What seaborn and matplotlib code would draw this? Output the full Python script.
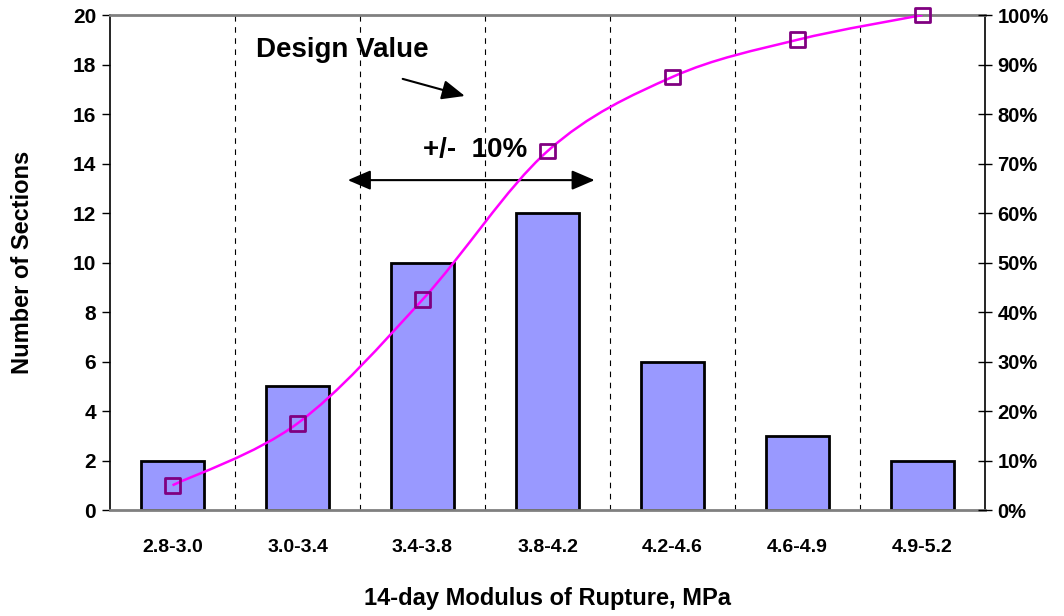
import numpy as np
import pandas as pd
import matplotlib
matplotlib.use("Agg")
import matplotlib.pyplot as plt
import seaborn as sns
from matplotlib.path import Path
from matplotlib.patches import PathPatch
from matplotlib.ticker import FuncFormatter

# data
ranges = ["2.8-3.0", "3.0-3.4", "3.4-3.8", "3.8-4.2", "4.2-4.6", "4.6-4.9", "4.9-5.2"]
counts = [2, 5, 10, 12, 6, 3, 2]
cum_pct = [5, 17.5, 42.5, 72.5, 87.5, 95, 100]

sns.set_style("white")
plt.rcParams["font.family"] = ["Liberation Sans", "DejaVu Sans"]
plt.rcParams["font.weight"] = "bold"
plt.rcParams["text.color"] = "black"
plt.rcParams["axes.labelcolor"] = "black"
plt.rcParams["xtick.color"] = "black"
plt.rcParams["ytick.color"] = "black"

df = pd.DataFrame({"range": ranges, "count": counts})

fig = plt.figure(figsize=(10.64, 6.16), dpi=100)
ax = fig.add_axes([0.1034, 0.172, 0.8223, 0.8036])

sns.barplot(data=df, x="range", y="count", color="#9999FF", width=0.5,
            edgecolor="black", linewidth=2, saturation=1, ax=ax, zorder=2)

n = len(ranges)
ax.set_xlim(-0.5, n - 0.5)
ax.set_ylim(0, 20)
ax.set_yticks(range(0, 21, 2))

# tick marks at category boundaries, labels at centres
bounds = np.arange(-0.5, n, 1.0)
ax.set_xticks(bounds)
ax.set_xticklabels([])
ax.set_xticks(range(n), minor=True)
ax.set_xticklabels(ranges, minor=True, fontsize=14, fontweight="bold")
ax.tick_params(axis="x", which="major", direction="out", length=7, width=1)
ax.tick_params(axis="x", which="minor", length=0, pad=21)
ax.tick_params(axis="y", direction="out", length=6, width=1, labelsize=15, pad=4)
for lab in ax.get_yticklabels():
    lab.set_fontweight("bold")

for b in bounds[1:-1]:
    ax.axvline(b, color="black", lw=0.8, ls=(0, (5, 5)), zorder=1)

for side in ["left", "right"]:
    ax.spines[side].set_color("black")
    ax.spines[side].set_linewidth(1.2)
for side in ["top", "bottom"]:
    ax.spines[side].set_color("#808080")
    ax.spines[side].set_linewidth(2)

ax.set_xlabel("14-day Modulus of Rupture, MPa", fontsize=17, fontweight="bold", labelpad=22)
ax.set_ylabel("Number of Sections", fontsize=17, fontweight="bold", labelpad=28)

# cumulative % on secondary axis
ax2 = ax.twinx()
ax2.set_ylim(0, 100)
ax2.set_yticks(range(0, 101, 10))
ax2.yaxis.set_major_formatter(FuncFormatter(lambda v, p: f"{int(v)}%"))
ax2.tick_params(axis="y", direction="inout", length=10, width=1, labelsize=14.5, pad=4)
for lab in ax2.get_yticklabels():
    lab.set_fontweight("bold")
for s in ax2.spines.values():
    s.set_visible(False)

# smoothed line (Catmull-Rom as Bezier), like Excel's smoothed series
xs = np.arange(n, dtype=float)
ys = np.array(cum_pct, dtype=float)
P = np.column_stack([xs, ys])
Pe = np.vstack([P[0], P, P[-1]])
verts = [tuple(P[0])]
codes = [Path.MOVETO]
for i in range(n - 1):
    p0, p1, p2, p3 = Pe[i], Pe[i + 1], Pe[i + 2], Pe[i + 3]
    c1 = p1 + (p2 - p0) / 6
    c2 = p2 - (p3 - p1) / 6
    verts += [tuple(c1), tuple(c2), tuple(p2)]
    codes += [Path.CURVE4] * 3
ax2.add_patch(PathPatch(Path(verts, codes), fill=False, edgecolor="#FF00FF", lw=1.8, zorder=3))
sns.scatterplot(x=xs, y=ys, ax=ax2, marker="s", s=110, facecolor="none",
                edgecolor="#800080", linewidth=2, zorder=4, clip_on=False)

# annotations
ax.text(1.36, 18.6, "Design Value", fontsize=20, fontweight="bold", ha="center", va="center")
ax.annotate("", xy=(2.36, 16.7), xytext=(1.82, 17.45),
            arrowprops=dict(arrowstyle="-|>,head_length=1.4,head_width=0.6", color="black", lw=1.5))
ax.text(2.42, 14.55, "+/-  10%", fontsize=20, fontweight="bold", ha="center", va="center")
ax.annotate("", xy=(1.38, 13.33), xytext=(3.40, 13.33),
            arrowprops=dict(arrowstyle="<|-|>,head_length=1.4,head_width=0.6", color="black", lw=1.5))

fig.savefig("out.png", dpi=100)
